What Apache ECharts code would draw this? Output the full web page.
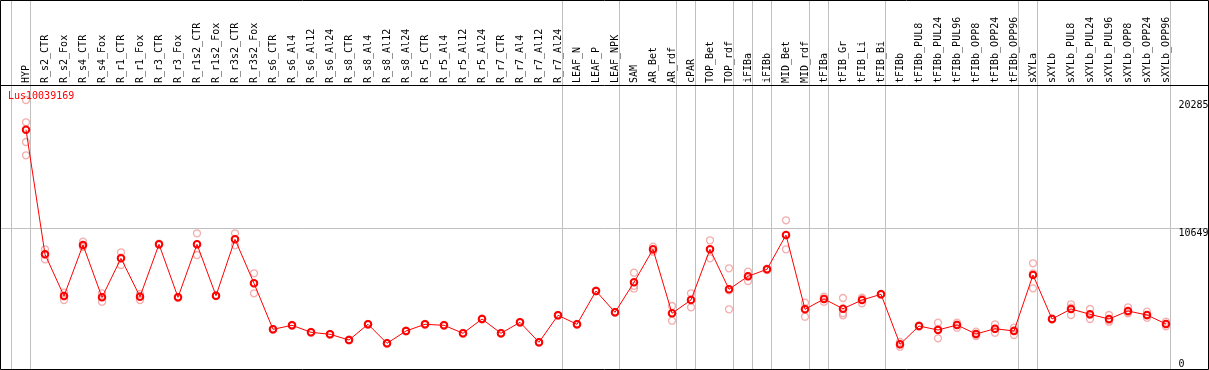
<!DOCTYPE html>
<html><head><meta charset="utf-8">
<script src="https://cdn.jsdelivr.net/npm/echarts@6/dist/echarts.min.js"></script>
<style>html,body{margin:0;padding:0;background:#fff}#c{width:1209px;height:370px}</style>
</head><body><div id="c"></div>
<script>
const chartTitle = 'Lus10039169';
const categories = ['HYP','R_s2_CTR','R_s2_Fox','R_s4_CTR','R_s4_Fox','R_r1_CTR','R_r1_Fox','R_r3_CTR','R_r3_Fox','R_r1s2_CTR','R_r1s2_Fox','R_r3s2_CTR','R_r3s2_Fox','R_s6_CTR','R_s6_Al4','R_s6_Al12','R_s6_Al24','R_s8_CTR','R_s8_Al4','R_s8_Al12','R_s8_Al24','R_r5_CTR','R_r5_Al4','R_r5_Al12','R_r5_Al24','R_r7_CTR','R_r7_Al4','R_r7_Al12','R_r7_Al24','LEAF_N','LEAF_P','LEAF_NPK','SAM','AR_Bet','AR_rdf','cPAR','TOP_Bet','TOP_rdf','iFIBa','iFIBb','MID_Bet','MID_rdf','tFIBa','tFIB_Gr','tFIB_Li','tFIB_Bi','tFIBb','tFIBb_PUL8','tFIBb_PUL24','tFIBb_PUL96','tFIBb_OPP8','tFIBb_OPP24','tFIBb_OPP96','sXYLa','sXYLb','sXYLb_PUL8','sXYLb_PUL24','sXYLb_PUL96','sXYLb_OPP8','sXYLb_OPP24','sXYLb_OPP96'];
const means = [18050,8671,5532,9371,5434,8370,5480,9424,5434,9424,5555,9800,6488,3026,3327,2800,2650,2220,3402,1972,2898,3402,3327,2725,3801,2725,3553,2047,4080,3402,5909,4305,6564,9047,4230,5231,9047,6037,7015,7542,10124,4531,5307,4576,5231,5660,1897,3274,2973,3350,2672,3071,2898,7113,3801,4554,4155,3801,4403,4102,3425];
const replicates = [
 [20285,18607,17124,16123],[9047,8671,8295],[5781,5532,5231],[9620,9250,9243],[5736,5463,5103],
 [8822,8422,7866],[5683,5526,5231],[9470,9424,9380],[5470,5434,5400],[10252,9402,8618],
 [5590,5555,5520],[10252,9800,9349],[7241,6488,5736],[3060,3026,2990],[3360,3327,3290],
 [2830,2800,2770],[2680,2650,2620],[2250,2220,2190],[3430,3402,3370],[2000,1972,1940],
 [2930,2898,2870],[3430,3402,3370],[3360,3327,3290],[2760,2725,2690],[3830,3801,3770],
 [2760,2725,2690],[3580,3553,3520],[2080,2047,2010],[4110,4080,4050],[3430,3402,3370],
 [5940,5909,5880],[4340,4305,4270],[7286,6300,6100],[9243,9030,8867],[4780,4237,3673],
 [5736,5275,4682],[9725,9047,8370],[7617,5963,4531],[7361,7015,6661],[7600,7542,7480],
 [11230,10095,9047],[5028,4591,3974],[5480,5338,5103],[5382,4230,4080],[5404,5306,4983],
 [5700,5660,5620],[2078,1897,1716],[3320,3274,3230],[3523,3050,2348],[3523,3380,3146],
 [2845,2650,2522],[3402,3041,2770],[3146,2951,2597],[7994,7233,6112],[3840,3801,3760],
 [4908,4652,4102],[4554,4110,3801],[4102,3703,3598],[4682,4297,4230],[4351,4056,3899],
 [3598,3425,3250]
];
const yTicks = [0, 10649, 20285];
const groupEnds = [-1,0,28,31,34,35,37,38,39,41,42,45,52,53,60];

const FONT = 'DejaVu Sans Mono';
const scatterData = [];
replicates.forEach((arr, i) => arr.forEach(v => scatterData.push([i, v])));

const chart = echarts.init(document.getElementById('c'), null, {renderer: 'canvas'});
const yAxisBase = {
  type: 'value', position: 'right', min: yTicks[0], max: yTicks[2], interval: yTicks[1],
  axisLine: {show: false}, axisTick: {show: false}, splitLine: {show: false}
};
chart.setOption({
  animation: false,
  backgroundColor: '#fff',
  title: {text: chartTitle, left: 8, top: 91, padding: 0,
    textStyle: {color: '#ff0000', fontFamily: FONT, fontSize: 10, fontWeight: 'normal'}},
  grid: {left: 16.5, right: 33.5, top: 100, bottom: 0.5, containLabel: false, outerBoundsMode: 'none'},
  xAxis: {
    type: 'category', data: categories, position: 'top', offset: 15, boundaryGap: true,
    axisLine: {show: false}, axisTick: {show: false}, splitLine: {show: false},
    axisLabel: {interval: 0, rotate: 90, margin: 2, fontFamily: FONT, fontSize: 10, color: '#000'}
  },
  yAxis: [
    Object.assign({}, yAxisBase, {axisLabel: {showMinLabel: false, showMaxLabel: true, margin: 3, align: 'left',
      verticalAlign: 'top', fontFamily: FONT, fontSize: 10, color: '#000', formatter: v => String(v)}}),
    Object.assign({}, yAxisBase, {axisLabel: {showMinLabel: true, showMaxLabel: false, margin: 3, align: 'left',
      verticalAlign: 'bottom', fontFamily: FONT, fontSize: 10, color: '#000',
      formatter: v => (v === yTicks[0] ? String(v) : '')}})
  ],
  series: [
    {type: 'scatter', data: scatterData, symbol: 'circle', symbolSize: 7, silent: true, clip: false, z: 2,
     itemStyle: {color: 'rgba(255,255,255,0)', borderColor: '#f09a9a', borderWidth: 1.3}},
    {type: 'line', data: means, symbol: 'circle', symbolSize: 6.5, showAllSymbol: true, clip: false, z: 3,
     lineStyle: {color: '#ff0000', width: 1},
     itemStyle: {color: 'rgba(255,255,255,0)', borderColor: '#ff0000', borderWidth: 2}}
  ]
});

const x0 = chart.convertToPixel({xAxisIndex: 0}, 0);
const step = chart.convertToPixel({xAxisIndex: 0}, 1) - x0;
const yMid = Math.round(chart.convertToPixel({yAxisIndex: 0}, yTicks[1])) + 0.5;
const W = chart.getWidth();
const els = [];
groupEnds.forEach(i => {
  const x = Math.floor(x0 + i * step + 4.5) + 0.5;
  els.push({type: 'line', z: 0, shape: {x1: x, y1: 0, x2: x, y2: 369}, style: {stroke: '#c0c0c0', lineWidth: 1}});
});
els.push({type: 'line', z: 0, shape: {x1: 0, y1: yMid, x2: W, y2: yMid}, style: {stroke: '#c0c0c0', lineWidth: 1}});
els.push({type: 'line', z: 10, shape: {x1: 0, y1: 85.5, x2: W, y2: 85.5}, style: {stroke: '#000', lineWidth: 1}});
els.push({type: 'rect', z: 10, shape: {x: 0.5, y: 0.5, width: 1208, height: 369}, style: {fill: null, stroke: '#000', lineWidth: 1}});
chart.setOption({graphic: els});
</script>
</body></html>
